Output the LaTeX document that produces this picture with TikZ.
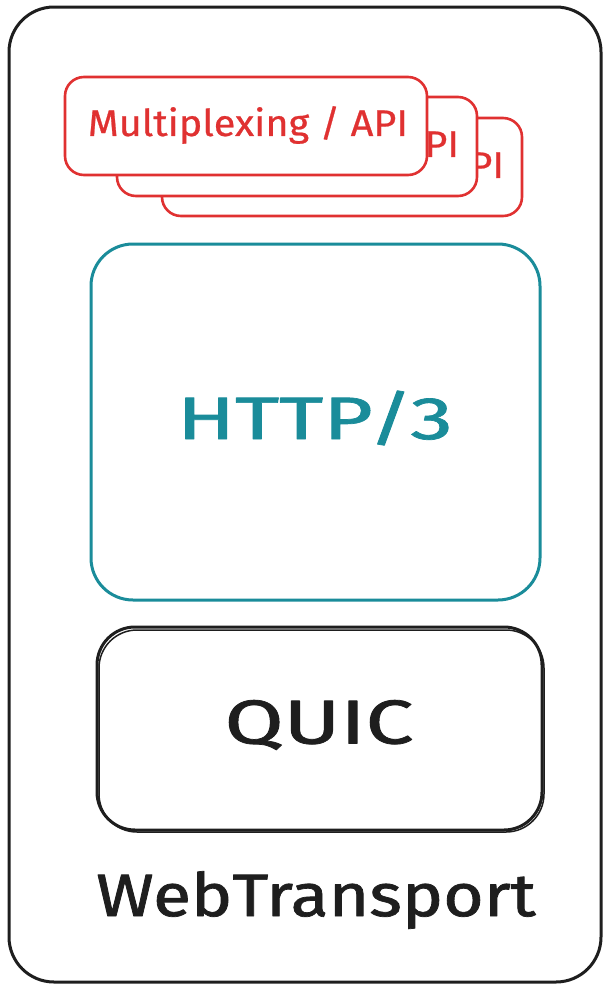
\documentclass[tikz,border=0pt]{standalone}
\usepackage{fontspec}
\setmainfont{Fira Sans}
\newfontfamily\hand[FakeBold=1.2]{Fira Sans}
\newfontfamily\handlight[FakeBold=0.6]{Fira Sans}
\definecolor{xred}{HTML}{E03131}
\definecolor{xteal}{HTML}{1A8C9A}
\definecolor{xblack}{HTML}{1E1E1E}
\newcommand{\wide}[2]{\scalebox{#1}[1]{#2}}
\begin{document}
\begin{tikzpicture}[x=1pt,y=-1pt,
  redbox/.style={draw=xred,line width=2.6pt,fill=white,rounded corners=19pt},
  redtext/.style={text=xred,font=\handlight\fontsize{37}{40}\selectfont},
  line join=round,line cap=round]
\useasboundingbox (0,0) rectangle (605,986);
% outer
\draw[xblack,line width=3pt,rounded corners=45pt] (9,7) rectangle (601,982);
% red stacked boxes
\draw[redbox] (162,118) rectangle (522,216);
\node[redtext] (t3) at (344,167) {\wide{1.07}{Multiplexing / API}};
\draw[redbox] (117,97) rectangle (477,196);
\node[redtext] (t2) at (299,146) {\wide{1.07}{Multiplexing / API}};
\draw[redbox] (65,77) rectangle (427,175);
\node[redtext] (t1) at (248,125) {\wide{1.07}{Multiplexing / API}};
% HTTP/3
\draw[xteal,line width=3pt,rounded corners=42pt] (91,244) rectangle (540,600);
\node[text=xteal,font=\hand\fontsize{60}{64}\selectfont] (h3) at (315,418) {\wide{1.42}{HTTP/3}};
% QUIC
\draw[xblack,line width=3pt,rounded corners=38pt] (97,627) rectangle (542,830);
\draw[xblack,line width=1.5pt,rounded corners=38pt] (99,630) rectangle (544,832);
\node[text=xblack,font=\hand\fontsize{62}{66}\selectfont] (q) at (319,725) {\wide{1.38}{QUIC}};
% label
\node[text=xblack,font=\hand\fontsize{60}{64}\selectfont] (wt) at (316,900) {\wide{1.16}{WebTransport}};
\end{tikzpicture}
\end{document}
